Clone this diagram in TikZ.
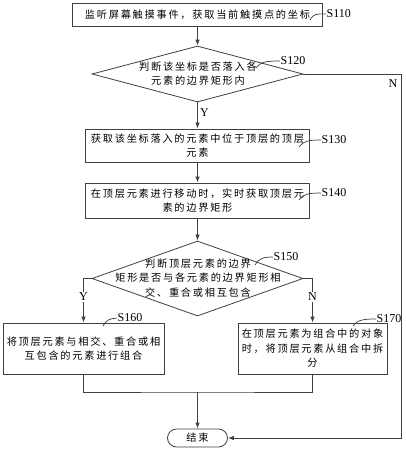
\documentclass[tikz,border=0pt]{standalone}
\usepackage{fontspec}
\setmainfont{Liberation Serif}
\newfontfamily\cjk[LetterSpace=17]{Noto Sans CJK SC}
\usetikzlibrary{shapes.geometric,arrows.meta}
\begin{document}
\begin{tikzpicture}[x=1pt,y=-1pt,
  line/.style={draw=black!75, line width=0.8pt},
  arr/.style={line, -{Latex[length=6pt,width=4.5pt]}},
  box/.style={draw=black!75, line width=0.8pt, rectangle, inner sep=0pt, align=center, font=\cjk\fontsize{10.2}{14.5}\selectfont},
  dia/.style={draw=black!75, line width=0.8pt, diamond, inner sep=0pt},
  txt/.style={font=\cjk\fontsize{10.2}{14.5}\selectfont, align=center, inner sep=0pt},
  lbl/.style={font=\fontsize{12}{12}\selectfont, anchor=west, inner sep=0.5pt},
  yn/.style={font=\fontsize{12}{12}\selectfont, inner sep=1pt},
  sq/.style={draw=black!75, line width=0.7pt}]
\useasboundingbox (0,0) rectangle (405,450);
\fill[white] (0,0) rectangle (405,450);

\node[box, minimum width=250pt, minimum height=23pt] (s110) at (197.5,14.5) {监听屏幕触摸事件，获取当前触摸点的坐标};
\node[dia, minimum width=211pt, minimum height=56pt] (d1) at (197.5,74) {};
\node[txt] (t1) at (198,73.5) {判断该坐标是否落入各\\元素的边界矩形内};
\node[box, minimum width=224pt, minimum height=33pt] (s130) at (197.5,145.5) {获取该坐标落入的元素中位于顶层的顶层\\元素};
\node[box, minimum width=224pt, minimum height=35pt] (s140) at (197.5,200.5) {在顶层元素进行移动时，实时获取顶层元\\素的边界矩形};
\node[dia, minimum width=211pt, minimum height=75pt] (d2) at (197.5,278.5) {};
\node[txt] (t2) at (198,278) {判断顶层元素的边界\\矩形是否与各元素的边界矩形相\\交、重合或相互包含};
\node[box, minimum width=161pt, minimum height=51pt] (s160) at (83.5,348.5) {将顶层元素与相交、重合或相\\互包含的元素进行组合};
\node[box, minimum width=149pt, minimum height=51pt] (s170) at (312.5,348.5) {在顶层元素为组合中的对象\\时，将顶层元素从组合中拆\\分};
\node[box, rounded corners=9pt, minimum width=60pt, minimum height=18pt] (end) at (197.5,438) {结束};

\draw[arr] (s110.south) -- (d1.north);
\draw[arr] (d1.south) -- (s130.north);
\draw[arr] (s130.south) -- (s140.north);
\draw[arr] (s140.south) -- (d2.north);
\draw[arr] (d2.west) -| (s160.north);
\draw[arr] (d2.east) -| (s170.north);
\coordinate (m) at (197.5,392);
\draw[line] (s160.south) |- (m) -| (s170.south);
\draw[arr] (m) -- (end.north);
\coordinate (nr) at (401,74);
\draw[arr] (d1.east) -- (nr) |- (end.east);

\node[yn, anchor=west] (y1) at (199,113) {Y};
\node[yn] (n1) at (393,84) {N};
\node[yn, fill=white] (y2) at (83.5,297) {Y};
\node[yn, fill=white] (n2) at (312.5,297) {N};

\node[lbl] (l110) at (326,14) {S110};
\coordinate (c110) at (310,20);
\draw[sq] (c110) .. controls (313,14) and (317,13.5) .. (l110.west);
\node[lbl] (l120) at (280,61) {S120};
\coordinate (c120) at (256,68);
\draw[sq] (c120) .. controls (260,62) and (266,61) .. (l120.west);
\node[lbl] (l130) at (321,140) {S130};
\coordinate (c130) at (299,147);
\draw[sq] (c130) .. controls (303,141) and (309,140) .. (l130.west);
\node[lbl] (l140) at (321,193) {S140};
\coordinate (c140) at (299,200);
\draw[sq] (c140) .. controls (303,194) and (309,193) .. (l140.west);
\node[lbl] (l150) at (273,257) {S150};
\coordinate (c150) at (255,265);
\draw[sq] (c150) .. controls (258,259) and (263,257) .. (l150.west);
\node[lbl] (l160) at (117,318) {S160};
\coordinate (c160) at (103,326);
\draw[sq] (c160) .. controls (106,320) and (110,318.5) .. (l160.west);
\node[lbl] (l170) at (376,319) {S170};
\coordinate (c170) at (353,326);
\draw[sq] (c170) .. controls (357,320) and (363,319) .. (l170.west);
\end{tikzpicture}
\end{document}
